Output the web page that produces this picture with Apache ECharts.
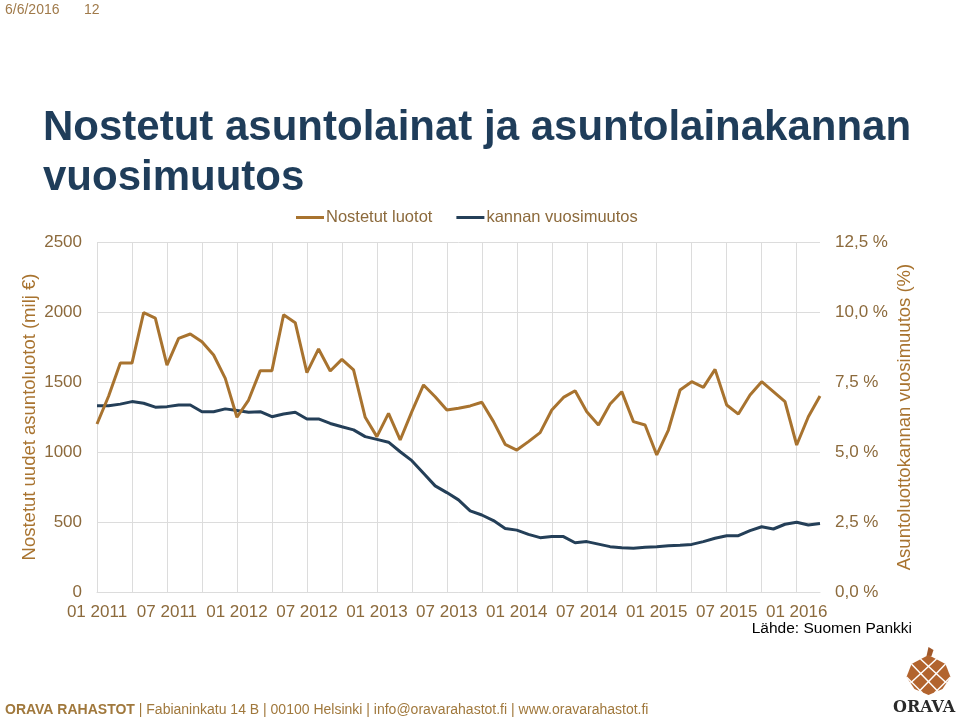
<!DOCTYPE html>
<html>
<head>
<meta charset="utf-8">
<script src="https://cdn.jsdelivr.net/npm/echarts@6/dist/echarts.min.js"></script>
<style>
html,body{margin:0;padding:0;background:#fff;}
#chart{width:960px;height:719px;}
</style>
</head>
<body>
<div id="chart"></div>
<script>
// Categories: monthly Jan 2011 .. Mar 2016 ("MM YYYY")
var categories = [];
(function(){
  for (var y = 2011; y <= 2016; y++) {
    for (var m = 1; m <= 12; m++) {
      if (y === 2016 && m > 3) break;
      categories.push((m < 10 ? '0' + m : '' + m) + ' ' + y);
    }
  }
})();

// Nostetut luotot (milj €), left axis
var nostetutLuotot = [
  1200, 1400, 1635, 1635, 1995, 1957, 1621, 1812, 1843, 1788, 1693, 1526,
  1248, 1371, 1581, 1581, 1980, 1924, 1567, 1736, 1579, 1662, 1586, 1248,
  1110, 1276, 1086, 1288, 1479, 1395, 1300, 1312, 1329, 1355, 1217, 1055,
  1014, 1074, 1138, 1300, 1390, 1438, 1288, 1193, 1343, 1431, 1217, 1193,
  979, 1157, 1443, 1502, 1462, 1590, 1336, 1271, 1407, 1502, 1431, 1359,
  1050, 1252, 1400
];

// kannan vuosimuutos (%), right axis
var kannanVuosimuutos = [
  6.65, 6.65, 6.71, 6.80, 6.74, 6.60, 6.62, 6.68, 6.68, 6.44, 6.44, 6.54,
  6.48, 6.42, 6.44, 6.26, 6.36, 6.42, 6.18, 6.18, 6.02, 5.90, 5.79, 5.55,
  5.45, 5.35, 5.01, 4.69, 4.24, 3.79, 3.55, 3.29, 2.90, 2.75, 2.55, 2.27,
  2.21, 2.06, 1.94, 1.98, 1.98, 1.76, 1.80, 1.71, 1.62, 1.58, 1.56, 1.60,
  1.62, 1.65, 1.67, 1.70, 1.80, 1.92, 2.01, 2.01, 2.19, 2.33, 2.25, 2.42,
  2.49, 2.39, 2.45
];

var seriesNames = ['Nostetut luotot', 'kannan vuosimuutos'];
var leftAxisName = 'Nostetut uudet asuntoluotot (milj €)';
var rightAxisName = 'Asuntoluottokannan vuosimuutos (%)';

var ORANGE = '#a8732f';
var NAVY = '#243f58';
var LABEL = '#8c6a3c';
var GRID = '#dcdcdc';
var FONT = 'Liberation Sans, Arial, sans-serif';

var chart = echarts.init(document.getElementById('chart'), null, {renderer: 'canvas'});

chart.setOption({
  animation: false,
  backgroundColor: '#ffffff',
  textStyle: {fontFamily: FONT},
  grid: {left: 97, right: 140, top: 242, bottom: 127, containLabel: false},
  legend: {
    top: 204, left: 291,
    itemWidth: 28, itemHeight: 3, itemGap: 24,
    icon: 'rect',
    textStyle: {color: LABEL, fontSize: 16.5, fontFamily: FONT, padding: [0, 0, 0, -3]},
    data: seriesNames
  },
  xAxis: {
    type: 'category',
    data: categories,
    boundaryGap: false,
    axisLine: {show: true, lineStyle: {color: GRID, width: 1}},
    axisTick: {show: false},
    axisLabel: {interval: 5, color: LABEL, fontSize: 17, margin: 12, fontFamily: FONT},
    splitLine: {show: true, interval: 2, lineStyle: {color: GRID, width: 1}}
  },
  yAxis: [
    {
      type: 'value', min: 0, max: 2500, interval: 500, position: 'left',
      axisLine: {show: false}, axisTick: {show: false},
      axisLabel: {color: LABEL, fontSize: 17, margin: 15, fontFamily: FONT,
        formatter: function (v) { return String(v); }},
      splitLine: {show: true, lineStyle: {color: GRID, width: 1}},
      name: leftAxisName, nameLocation: 'middle', nameGap: 58, nameMoveOverlap: false,
      nameTextStyle: {color: ORANGE, fontSize: 18.5, fontFamily: FONT}
    },
    {
      type: 'value', min: 0, max: 12.5, interval: 2.5, position: 'right',
      axisLine: {show: false}, axisTick: {show: false},
      axisLabel: {
        color: LABEL, fontSize: 17, margin: 15, fontFamily: FONT,
        formatter: function (v) { return v.toFixed(1).replace('.', ',') + ' %'; }
      },
      splitLine: {show: false},
      name: rightAxisName, nameLocation: 'middle', nameGap: 75, nameMoveOverlap: false,
      nameTextStyle: {color: ORANGE, fontSize: 18.5, fontFamily: FONT}
    }
  ],
  series: [
    {
      name: seriesNames[0], type: 'line', yAxisIndex: 0,
      data: nostetutLuotot, symbol: 'none', smooth: false,
      lineStyle: {color: ORANGE, width: 3}, itemStyle: {color: ORANGE}, z: 3
    },
    {
      name: seriesNames[1], type: 'line', yAxisIndex: 1,
      data: kannanVuosimuutos, symbol: 'none', smooth: false,
      lineStyle: {color: NAVY, width: 3}, itemStyle: {color: NAVY}, z: 2
    }
  ],
  graphic: [
    {type: 'text', left: 5, top: 3, style: {text: '6/6/2016', fill: '#a07a4a', font: '14px ' + FONT}},
    {type: 'text', left: 84, top: 3, style: {text: '12', fill: '#a07a4a', font: '14px ' + FONT}},
    {type: 'text', left: 43, top: 107, style: {text: 'Nostetut asuntolainat ja asuntolainakannan', fill: '#1f3d5a', font: 'bold 42px ' + FONT}},
    {type: 'text', left: 43, top: 157, style: {text: 'vuosimuutos', fill: '#1f3d5a', font: 'bold 42px ' + FONT}},
    {type: 'text', right: 48, top: 621, style: {text: 'Lähde: Suomen Pankki', fill: '#000000', font: '15.5px ' + FONT}},
    {type: 'text', left: 5, top: 703, style: {
      text: '{b|ORAVA RAHASTOT} | Fabianinkatu 14 B | 00100 Helsinki | info@oravarahastot.fi | www.oravarahastot.fi',
      fill: '#a0783c', font: '14px ' + FONT,
      rich: {b: {fontWeight: 'bold', fontSize: 14, fill: '#a0783c', fontFamily: FONT}}
    }},
    // logo: pinecone
    {type: 'group', left: 904, top: 647, children: [
      {type: 'polygon', shape: {points: [[22,0],[27,3],[25,9],[20,9]]}, style: {fill: '#a0582a'}},
      {type: 'polygon', shape: {points: [[22,8],[39,17],[44,30],[36,42],[22,48],[8,42],[0,30],[5,17]]}, style: {fill: '#b2642e'}},
      {type: 'polyline', shape: {points: [[5,17],[32,45]]}, style: {stroke: '#fff', lineWidth: 1.5}},
      {type: 'polyline', shape: {points: [[14,12],[40,36]]}, style: {stroke: '#fff', lineWidth: 1.5}},
      {type: 'polyline', shape: {points: [[0,30],[16,46]]}, style: {stroke: '#fff', lineWidth: 1.5}},
      {type: 'polyline', shape: {points: [[39,17],[12,45]]}, style: {stroke: '#fff', lineWidth: 1.5}},
      {type: 'polyline', shape: {points: [[30,12],[4,36]]}, style: {stroke: '#fff', lineWidth: 1.5}},
      {type: 'polyline', shape: {points: [[44,30],[28,46]]}, style: {stroke: '#fff', lineWidth: 1.5}}
    ]},
    {type: 'text', left: 893, top: 700, style: {text: 'ORAVA', fill: '#2a2a2a', font: 'bold 16px "DejaVu Serif", "Liberation Serif", serif'}}
  ]
});
</script>
</body>
</html>
